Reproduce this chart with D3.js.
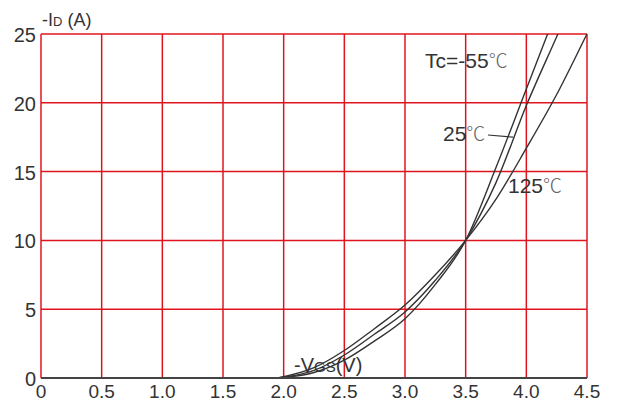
<!DOCTYPE html>
<html>
<head>
<meta charset="utf-8">
<script src="https://cdn.jsdelivr.net/npm/d3@7"></script>
<style>
  body { margin: 0; background: #fff; }
  svg { font-family: "Liberation Sans", Arial, sans-serif; }
</style>
</head>
<body>
<svg id="chart"></svg>
<script>
const width = 623;
const height = 408;
const margin = { top: 34, right: 36, bottom: 30, left: 41 };

// transfer characteristics, -VGS (V) vs -ID (A)
const vgs = [1.95, 2.25, 2.5, 2.75, 3.0, 3.25, 3.5, 3.75, 4.0, 4.25, 4.5];
const idM55 = [0, 0.4, 1.3, 2.7, 4.3, 6.8, 10, 15.3, 21, null, null];
const id25 = [0, 0.55, 1.67, 3.2, 4.8, 7.1, 10, 14.2, 19.8, 24.8, null];
const id125 = [0, 0.75, 2.0, 3.6, 5.3, 7.5, 10, 13, 16.7, 20.6, 25];

const xTicks = [0, 0.5, 1.0, 1.5, 2.0, 2.5, 3.0, 3.5, 4.0, 4.5];
const yTicks = [0, 5, 10, 15, 20, 25];

const svg = d3.select("#chart")
  .attr("width", width)
  .attr("height", height)
  .attr("viewBox", `0 0 ${width} ${height}`);

const x = d3.scaleLinear().domain([0, 4.5]).range([margin.left, width - margin.right]);
const y = d3.scaleLinear().domain([0, 25]).range([height - margin.bottom, margin.top]);

const red = "#e0141e";
const ink = "#333";

// grid
svg.append("g")
  .selectAll("line")
  .data(xTicks)
  .enter()
  .append("line")
  .attr("x1", (d) => x(d)).attr("x2", (d) => x(d))
  .attr("y1", y(0)).attr("y2", y(25))
  .style("stroke", red)
  .style("stroke-width", 1.5);

svg.append("g")
  .selectAll("line")
  .data(yTicks.filter((d) => d > 0))
  .enter()
  .append("line")
  .attr("x1", x(0)).attr("x2", x(4.5))
  .attr("y1", (d) => y(d)).attr("y2", (d) => y(d))
  .style("stroke", red)
  .style("stroke-width", 1.5);

// curves clipped to the plot box
svg.append("clipPath").attr("id", "plot")
  .append("rect")
  .attr("x", x(0)).attr("y", y(25))
  .attr("width", x(4.5) - x(0)).attr("height", y(0) - y(25));

const line = d3.line()
  .x((d) => x(d[0]))
  .y((d) => y(d[1]))
  .curve(d3.curveMonotoneX);

const series = [idM55, id25, id125].map((vals) => {
  const pts = vgs.map((v, i) => [v, vals[i]]).filter((p) => p[1] !== null);
  // carry the last segment on so it leaves the top of the plot
  const a = pts[pts.length - 2], b = pts[pts.length - 1];
  const slope = (b[1] - a[1]) / (b[0] - a[0]);
  return pts.concat([[b[0] + 6 / slope, b[1] + 6]]);
});

svg.append("g")
  .attr("clip-path", "url(#plot)")
  .selectAll("path")
  .data(series)
  .enter()
  .append("path")
  .attr("d", line)
  .style("fill", "none")
  .style("stroke", ink)
  .style("stroke-width", 1.4);

// x-axis baseline
svg.append("line")
  .attr("x1", x(0)).attr("x2", x(4.5))
  .attr("y1", y(0)).attr("y2", y(0))
  .style("stroke", "#444")
  .style("stroke-width", 1.8);

// tick labels
svg.append("g")
  .selectAll("text")
  .data(xTicks)
  .enter()
  .append("text")
  .attr("x", (d) => x(d))
  .attr("y", y(0) + 20)
  .attr("text-anchor", "middle")
  .style("font-size", "19px")
  .style("fill", ink)
  .text((d) => (d === 0 ? "0" : d.toFixed(1)));

svg.append("g")
  .selectAll("text")
  .data(yTicks)
  .enter()
  .append("text")
  .attr("x", x(0) - 5)
  .attr("y", (d) => y(d) + 1)
  .attr("dy", "0.35em")
  .attr("text-anchor", "end")
  .style("font-size", "20px")
  .style("fill", ink)
  .text((d) => d);

// axis titles
const yTitle = svg.append("text")
  .attr("x", 42).attr("y", 26)
  .style("font-size", "18px")
  .style("fill", ink);
yTitle.append("tspan").text("-I");
yTitle.append("tspan").style("font-size", "13px").text("D");
yTitle.append("tspan").text(" (A)");

const xTitle = svg.append("text")
  .attr("x", 294).attr("y", 372)
  .style("font-size", "20px")
  .style("fill", ink);
xTitle.append("tspan").text("-V");
xTitle.append("tspan").style("font-size", "15px").text("GS");
xTitle.append("tspan").text("(V)");

// temperature labels
function tempLabel(px, py, txt) {
  const t = svg.append("text")
    .attr("x", px).attr("y", py)
    .style("font-size", "21px")
    .style("fill", ink);
  t.append("tspan").text(txt);
  t.append("tspan")
    .style("font-family", "'Noto Sans CJK SC', sans-serif")
    .style("font-size", "19px")
    .style("font-weight", 300)
    .style("fill", "#666")
    .text("℃");
}

tempLabel(425, 68, "Tc=-55");
tempLabel(443, 141, "25");
tempLabel(508, 193, "125");

svg.append("line")
  .attr("x1", 488).attr("y1", 135)
  .attr("x2", x(3.89)).attr("y2", y(17.5))
  .style("stroke", ink)
  .style("stroke-width", 1.2);
</script>
</body>
</html>
